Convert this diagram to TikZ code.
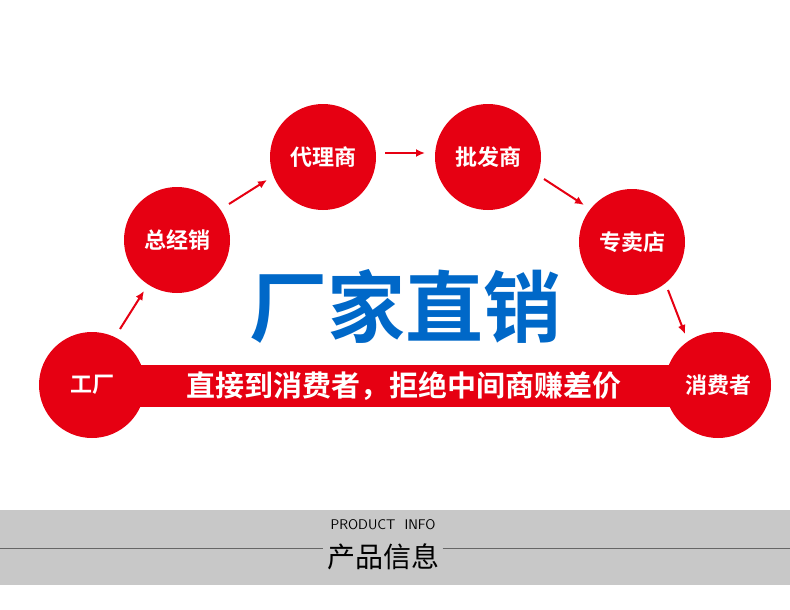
\documentclass[tikz,border=0pt]{standalone}
\usepackage{fontspec}
\newfontfamily\cjk{Noto Sans CJK SC}
\newfontfamily\cjkb{Noto Sans CJK SC Bold}
\usetikzlibrary{arrows.meta}
\definecolor{dotred}{RGB}{230,0,18}
\definecolor{titleblue}{RGB}{0,104,200}
\definecolor{bandgray}{RGB}{200,200,200}
\begin{document}
\begin{tikzpicture}[x=1pt,y=-1pt,
  stage/.style={circle,fill=dotred,minimum size=106pt,inner sep=0pt,text=white,font=\cjkb\fontsize{22}{22}\selectfont},
  flow/.style={-{Latex[length=9pt,width=8pt]},dotred,line width=2pt}]
  \useasboundingbox (0,0) rectangle (790,610);
  % bar behind the two end circles
  \fill[dotred] (140,365) rectangle (670,407);
  \node[text=white,font=\cjkb\fontsize{29}{29}\selectfont] (slogan) at (404,386) {直接到消费者，拒绝中间商赚差价};
  \node[stage] (factory) at (92,385) {工厂};
  \node[stage] (general) at (177,240) {总经销};
  \node[stage] (agent) at (323,157) {代理商};
  \node[stage] (whole) at (488,157) {批发商};
  \node[stage] (store) at (632,242) {专卖店};
  \node[stage] (buyer) at (718,385) {消费者};
  \node[text=titleblue,font=\cjkb\fontsize{78}{78}\selectfont] (title) at (405,306) {厂家直销};
  \draw[flow] (factory) ++(28,-56) -- ++(24,-38);
  \draw[flow] (general) ++(52,-36) -- ++(38,-24);
  \draw[flow] (agent) ++(62,-4) -- ++(40,0);
  \draw[flow] (whole) ++(56,22) -- ++(40,26);
  \draw[flow] (store) ++(36,48) -- ++(17,44);
  % product info band
  \fill[bandgray] (0,510) rectangle (790,585);
  \node[font=\sffamily\fontsize{14}{14}\selectfont] (info) at (383,525) {PRODUCT\ \ INFO};
  \node[font=\cjk\fontsize{28}{28}\selectfont] (infocn) at (383,557) {产品信息};
  \coordinate (lineL) at (0,548);
  \coordinate (lineR) at (790,548);
  \draw[black!60,line width=0.8pt] (lineL) -- (infocn.west |- lineL);
  \draw[black!60,line width=0.8pt] (infocn.east |- lineR) -- (lineR);
\end{tikzpicture}
\end{document}
